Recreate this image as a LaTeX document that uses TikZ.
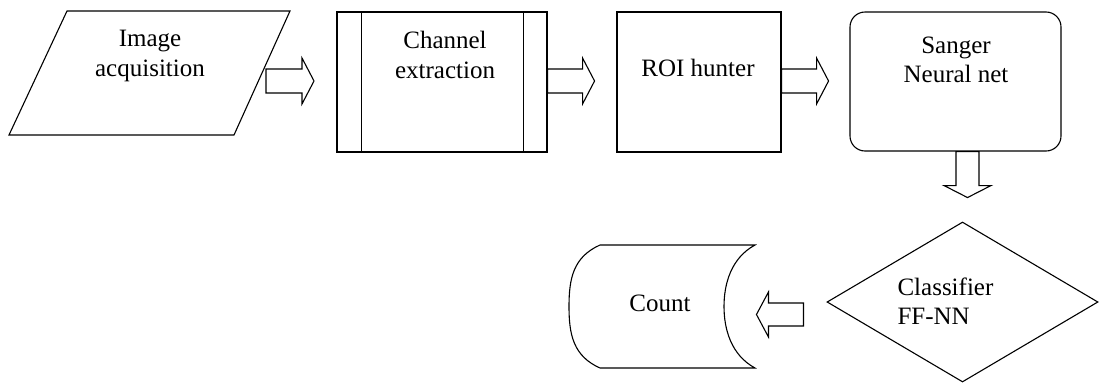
\documentclass[tikz,border=0pt]{standalone}
\usepackage{fontspec}
\setmainfont{Liberation Serif}
\usetikzlibrary{shapes.geometric,calc}
\begin{document}
\begin{tikzpicture}[x=1pt,y=-1pt,
  line width=1.1pt,
  box/.style={draw, rectangle, inner sep=0pt, line width=1.1pt},
  lbl/.style={font=\fontsize{25}{29.5}\selectfont, align=center, inner sep=0pt},
  blk/.style={draw, line width=1.1pt, line join=miter}]
\useasboundingbox (0,0) rectangle (1099,383);
% Image acquisition (parallelogram)
\coordinate (p1) at (67,11);
\coordinate (p2) at (290,11);
\coordinate (p3) at (234,135);
\coordinate (p4) at (9,135);
\draw[line join=miter] (p1) -- (p2) -- (p3) -- (p4) -- cycle;
\node[lbl] (img) at (150,56) {Image\\acquisition};
% Channel extraction
\node[box, minimum width=210pt, minimum height=140pt] (ch) at (442,82) {};
\draw ([xshift=25pt]ch.north west) -- ([xshift=25pt]ch.south west);
\draw ([xshift=-24pt]ch.north east) -- ([xshift=-24pt]ch.south east);
\node[lbl] (cht) at (445,55) {Channel\\extraction};
% ROI hunter
\node[box, minimum width=164pt, minimum height=140pt] (roi) at (699,82) {};
\node[lbl] (roit) at (698,68) {ROI hunter};
% Sanger
\node[box, rounded corners=15pt, minimum width=211pt, minimum height=139pt] (sng) at (955.5,81.5) {};
\node[lbl] (sngt) at (956,60) {Sanger\\Neural net};
% Classifier
\node[draw, diamond, minimum width=271pt, minimum height=160pt, inner sep=0pt] (cls) at (962.5,302) {};
\node[lbl, align=left, anchor=west] (clst) at (897,301) {Classifier\\FF-NN};
% Count (stored data)
\coordinate (c1) at (600,245);
\coordinate (c2) at (755,245);
\coordinate (c3) at (755,368);
\coordinate (c4) at (600,368);
\draw (c1) -- (c2) .. controls (731,258) and (724,284) .. (724,306.5)
  .. controls (724,329) and (731,355) .. (c3) -- (c4)
  .. controls (573,356) and (569,334) .. (569,306.5)
  .. controls (569,279) and (573,257) .. (c1) -- cycle;
\node[lbl] (cnt) at (660,303) {Count};
% block arrows
\coordinate (a1) at (266,81);
\draw[blk] (a1) ++(0,-12) -- ++(36,0) -- ++(0,-11) -- ++(12,23) -- ++(-12,23) -- ++(0,-11) -- ++(-36,0) -- cycle;
\coordinate (a2) at (ch.east |- a1);
\draw[blk] (a2) ++(0,-12) -- ++(35,0) -- ++(0,-11) -- ++(12,23) -- ++(-12,23) -- ++(0,-11) -- ++(-35,0) -- cycle;
\coordinate (a3) at (roi.east |- a1);
\draw[blk] (a3) ++(0,-12) -- ++(35,0) -- ++(0,-11) -- ++(12,23) -- ++(-12,23) -- ++(0,-11) -- ++(-35,0) -- cycle;
\coordinate (d0) at ($(sng.south)+(12,0)$);
\draw[blk] (d0) ++(-11.5,0) -- ++(0,34) -- ++(-12,0) -- ++(23.5,12) -- ++(23.5,-12) -- ++(-12,0) -- ++(0,-34) -- cycle;
\coordinate (l0) at ($(cls.west)+(-23,12.5)$);
\draw[blk] (l0) ++(0,-11.5) -- ++(-35,0) -- ++(0,-11) -- ++(-12,22.5) -- ++(12,22.5) -- ++(0,-11) -- ++(35,0) -- cycle;
\end{tikzpicture}
\end{document}
